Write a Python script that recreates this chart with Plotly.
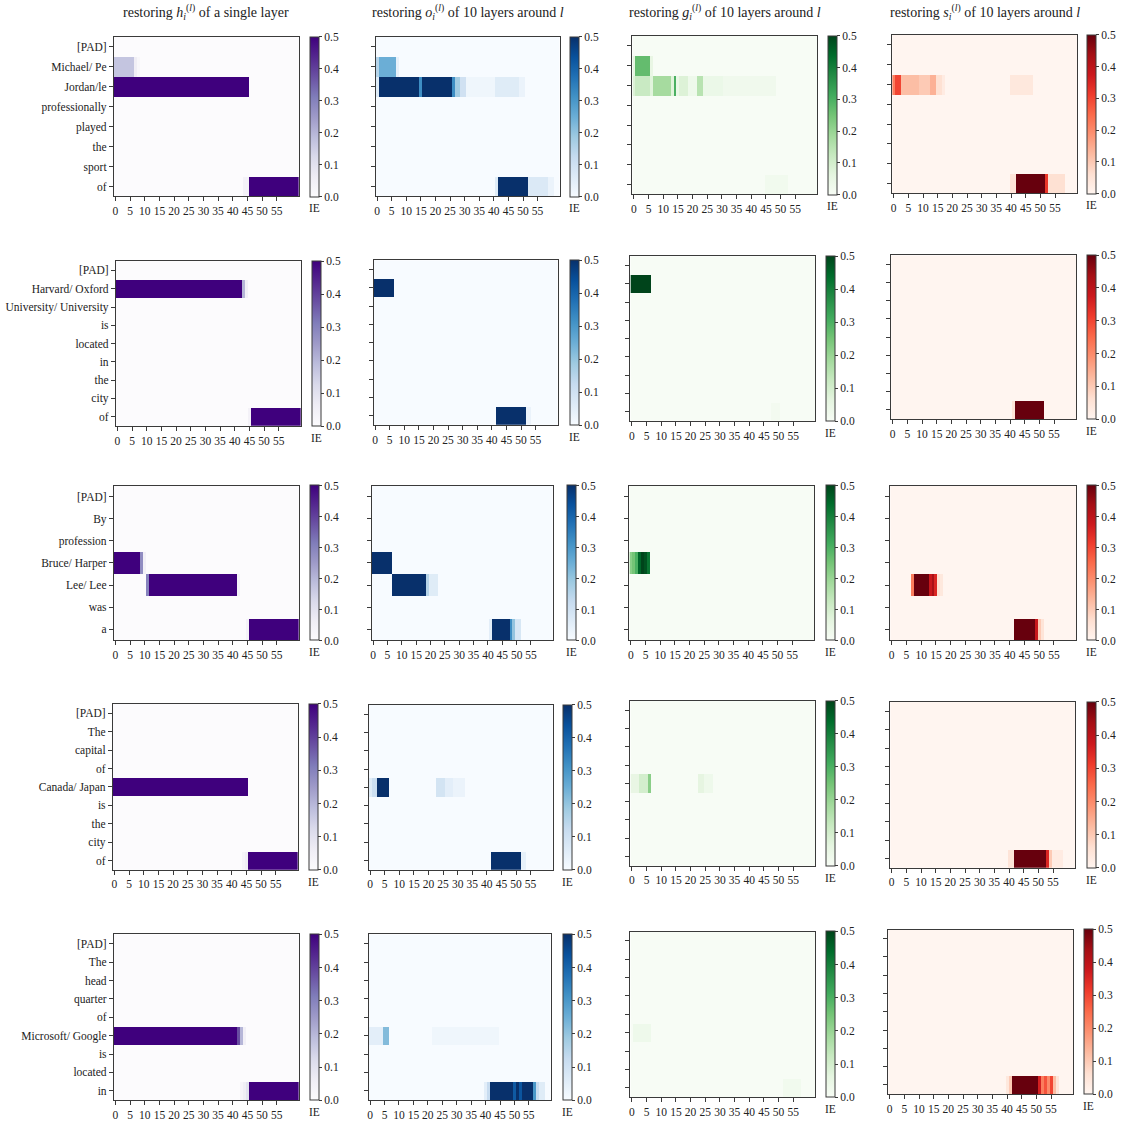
import numpy as np
import plotly.graph_objects as go

W = H = 1121
N_LAYERS = 63

# token labels for each of the five prompts
tokens_1 = ["[PAD]", "Michael/ Pe", "Jordan/le", "professionally", "played", "the", "sport", "of"]
tokens_2 = ["[PAD]", "Harvard/ Oxford", "University/ University", "is", "located", "in", "the", "city", "of"]
tokens_3 = ["[PAD]", "By", "profession", "Bruce/ Harper", "Lee/ Lee", "was", "a"]
tokens_4 = ["[PAD]", "The", "capital", "of", "Canada/ Japan", "is", "the", "city", "of"]
tokens_5 = ["[PAD]", "The", "head", "quarter", "of", "Microsoft/ Google", "is", "located", "in"]

# IE values, per token row: (first layer, last layer, value)
h_1 = {1: [(0, 6, 0.17), (7, 7, 0.06), (8, 8, 0.02)],
       2: [(0, 45, 0.5)],
       7: [(44, 45, 0.04), (46, 62, 0.5)]}
o_1 = {1: [(0, 0, 0.15), (1, 6, 0.25), (7, 7, 0.04)],
       2: [(0, 0, 0.06), (1, 14, 0.5), (15, 15, 0.32), (16, 25, 0.5), (26, 26, 0.32), (27, 28, 0.18),
           (29, 30, 0.1), (31, 40, 0.02), (41, 48, 0.06), (49, 50, 0.03)],
       7: [(41, 41, 0.06), (42, 51, 0.5), (52, 58, 0.07), (59, 60, 0.03)]}
g_1 = {1: [(0, 0, 0.06), (1, 5, 0.27), (6, 6, 0.05)],
       2: [(0, 0, 0.08), (1, 5, 0.12), (6, 6, 0.07), (7, 12, 0.18), (13, 13, 0.07), (14, 14, 0.3),
           (15, 15, 0.04), (16, 18, 0.08), (19, 21, 0.03), (22, 23, 0.15), (24, 30, 0.04), (31, 48, 0.025)],
       7: [(45, 52, 0.02)]}
s_1 = {2: [(0, 0, 0.22), (1, 2, 0.3), (3, 8, 0.12), (9, 12, 0.1), (13, 14, 0.14), (15, 16, 0.06),
           (17, 17, 0.03), (40, 47, 0.04)],
       7: [(40, 41, 0.05), (42, 51, 0.5), (52, 52, 0.32), (53, 58, 0.06)]}

h_2 = {1: [(0, 42, 0.5), (43, 43, 0.2), (44, 44, 0.05)],
       8: [(45, 45, 0.04), (46, 62, 0.5)]}
o_2 = {1: [(0, 6, 0.5)],
       8: [(42, 51, 0.5), (52, 53, 0.03)]}
g_2 = {1: [(0, 6, 0.5)],
       8: [(48, 50, 0.015)]}
s_2 = {8: [(41, 41, 0.05), (42, 51, 0.5)]}

h_3 = {3: [(0, 8, 0.5), (9, 9, 0.28), (10, 10, 0.05)],
       4: [(11, 11, 0.3), (12, 41, 0.5), (42, 42, 0.04)],
       6: [(45, 45, 0.04), (46, 62, 0.5)]}
o_3 = {3: [(0, 6, 0.5)],
       4: [(7, 18, 0.5), (19, 19, 0.15), (20, 22, 0.06)],
       6: [(41, 41, 0.05), (42, 47, 0.5), (48, 48, 0.32), (49, 49, 0.2), (50, 51, 0.08)]}
g_3 = {3: [(0, 0, 0.22), (1, 1, 0.25), (2, 2, 0.3), (3, 3, 0.45), (4, 4, 0.5), (5, 5, 0.48), (6, 6, 0.42)]}
s_3 = {4: [(7, 7, 0.22), (8, 12, 0.5), (13, 13, 0.38), (14, 14, 0.43), (15, 15, 0.35), (16, 16, 0.06),
           (17, 17, 0.04)],
       6: [(42, 48, 0.5), (49, 49, 0.38), (50, 50, 0.1), (51, 51, 0.05)]}

h_4 = {4: [(0, 45, 0.5)],
       8: [(44, 44, 0.03), (45, 45, 0.06), (46, 62, 0.5)]}
o_4 = {4: [(0, 0, 0.06), (1, 2, 0.11), (3, 6, 0.5), (23, 25, 0.09), (26, 28, 0.05), (29, 32, 0.03)],
       8: [(42, 51, 0.5), (52, 53, 0.04)]}
g_4 = {4: [(0, 2, 0.05), (3, 5, 0.1), (6, 6, 0.22), (23, 24, 0.06), (25, 27, 0.03)]}
s_4 = {8: [(40, 41, 0.05), (42, 52, 0.5), (53, 53, 0.35), (54, 54, 0.1), (55, 58, 0.03)]}

h_5 = {5: [(0, 41, 0.5), (42, 42, 0.38), (43, 43, 0.2), (44, 44, 0.05)],
       8: [(43, 43, 0.03), (44, 44, 0.06), (45, 45, 0.1), (46, 62, 0.5)]}
o_5 = {5: [(0, 4, 0.05), (5, 6, 0.22), (22, 44, 0.02)],
       8: [(40, 40, 0.05), (41, 41, 0.12), (42, 49, 0.5), (50, 50, 0.42), (51, 51, 0.5), (52, 52, 0.43),
           (53, 56, 0.5), (57, 57, 0.3), (58, 58, 0.12), (59, 60, 0.06)]}
g_5 = {5: [(1, 6, 0.03)],
       8: [(52, 57, 0.02)]}
s_5 = {8: [(40, 40, 0.04), (41, 41, 0.1), (42, 50, 0.5), (51, 51, 0.36), (52, 52, 0.22), (53, 53, 0.28),
           (54, 54, 0.2), (55, 55, 0.3), (56, 56, 0.12), (57, 57, 0.05)]}

titles = ["restoring <i>h</i><sub><i>i</i></sub><sup>(<i>l</i>)</sup> of a single layer",
          "restoring <i>o</i><sub><i>i</i></sub><sup>(<i>l</i>)</sup> of 10 layers around <i>l</i>",
          "restoring <i>g</i><sub><i>i</i></sub><sup>(<i>l</i>)</sup> of 10 layers around <i>l</i>",
          "restoring <i>s</i><sub><i>i</i></sub><sup>(<i>l</i>)</sup> of 10 layers around <i>l</i>"]
x_ticks = [0, 5, 10, 15, 20, 25, 30, 35, 40, 45, 50, 55]
cbar_ticks = [0.0, 0.1, 0.2, 0.3, 0.4, 0.5]

rows = [(tokens_1, [h_1, o_1, g_1, s_1]),
        (tokens_2, [h_2, o_2, g_2, s_2]),
        (tokens_3, [h_3, o_3, g_3, s_3]),
        (tokens_4, [h_4, o_4, g_4, s_4]),
        (tokens_5, [h_5, o_5, g_5, s_5])]

scales = ["Purples", "Blues", "Greens", "Reds"]

# pixel boxes: x0, x1, y0, y1, colorbar left
boxes = [
    [(113, 298, 37, 197, 309), (375, 559, 37, 197, 570), (632, 817, 36, 195, 828), (892, 1077, 35, 194, 1087)],
    [(115, 300, 262, 427, 311), (373, 557, 261, 426, 570), (630, 815, 257, 422, 826), (891, 1076, 256, 420, 1087)],
    [(113, 298, 487, 642, 309), (371, 552, 487, 642, 567), (629, 814, 487, 642, 826), (890, 1076, 487, 642, 1087)],
    [(112, 297, 706, 872, 308), (368, 552, 707, 872, 563), (630, 815, 703, 868, 826), (890, 1075, 704, 870, 1087)],
    [(113, 298, 937, 1103, 309), (368, 550, 937, 1103, 563), (630, 815, 934, 1100, 826), (888, 1073, 932, 1097, 1084)],
]


def build_grid(n_rows, segs):
    z = np.zeros((n_rows, N_LAYERS))
    for r, parts in segs.items():
        for a, b, v in parts:
            z[r, a:b + 1] = v
    return z


FONT = "Liberation Serif"
AX = "#3a3a3a"
TXT = "#222"
CB_W = 9

fig = go.Figure()
layout = dict(width=W, height=H, margin=dict(l=0, r=0, t=0, b=0),
              paper_bgcolor="white", plot_bgcolor="white",
              font=dict(family=FONT, size=11, color=TXT), showlegend=False)
annotations = []

k = 0
for ri, (toks, panels) in enumerate(rows):
    n = len(toks)
    for ci, segs in enumerate(panels):
        k += 1
        x0, x1, y0, y1, cbx = boxes[ri][ci]
        sfx = "" if k == 1 else str(k)
        z = build_grid(n, segs)
        fig.add_trace(go.Heatmap(
            z=z, x=list(range(N_LAYERS)), y=list(range(n)),
            colorscale=scales[ci], zmin=0, zmax=0.5, zsmooth=False,
            xaxis="x" + sfx, yaxis="y" + sfx, hoverinfo="skip",
            colorbar=dict(
                x=cbx / W, xanchor="left", xpad=0,
                y=1 - (y0 + y1) / 2 / H, yanchor="middle", ypad=0,
                len=y1 - y0, lenmode="pixels",
                thickness=CB_W, thicknessmode="pixels",
                outlinewidth=1, outlinecolor=AX,
                tickvals=cbar_ticks, ticktext=["%.1f" % t for t in cbar_ticks],
                ticks="outside", ticklen=3, tickcolor=AX,
                tickfont=dict(family=FONT, size=11.5, color=TXT),
            ),
        ))
        layout["xaxis" + sfx] = dict(
            domain=[x0 / W, x1 / W], anchor="y" + sfx, range=[-0.5, N_LAYERS - 0.5],
            tickmode="array", tickvals=x_ticks, ticks="outside", ticklen=4, tickcolor=AX,
            showline=True, linecolor=AX, linewidth=1, mirror=True, showgrid=False, zeroline=False,
            tickfont=dict(family=FONT, size=11.5, color=TXT),
        )
        yax = dict(
            domain=[1 - y1 / H, 1 - y0 / H], anchor="x" + sfx, range=[n - 0.5, -0.5],
            tickmode="array", tickvals=list(range(n)),
            showticklabels=(ci == 0),
            ticks="outside", ticklen=4, tickcolor=AX,
            showline=True, linecolor=AX, linewidth=1, mirror=True, showgrid=False, zeroline=False,
            tickfont=dict(family=FONT, size=11.5, color=TXT),
        )
        if ci == 0:
            yax["ticktext"] = toks
        layout["yaxis" + sfx] = yax
        # colorbar label under the bar
        annotations.append(dict(
            text="IE", x=(cbx + CB_W / 2) / W, y=1 - (y1 + 12) / H, xref="paper", yref="paper",
            xanchor="center", yanchor="middle", showarrow=False,
            font=dict(family=FONT, size=11.5, color=TXT),
        ))
        if ri == 0:
            annotations.append(dict(
                text=titles[ci], x=(x0 + x1) / 2 / W, y=1 - 12 / H, xref="paper", yref="paper",
                xanchor="center", yanchor="middle", showarrow=False,
                font=dict(family=FONT, size=14, color=TXT),
            ))

layout["annotations"] = annotations
fig.update_layout(**layout)
# drop the browser's default 8px body margin so the figure sits at the page origin
fig.write_html("out.html", config={"displayModeBar": False},
               post_script="document.body.style.margin='0';document.body.style.overflow='hidden';")
